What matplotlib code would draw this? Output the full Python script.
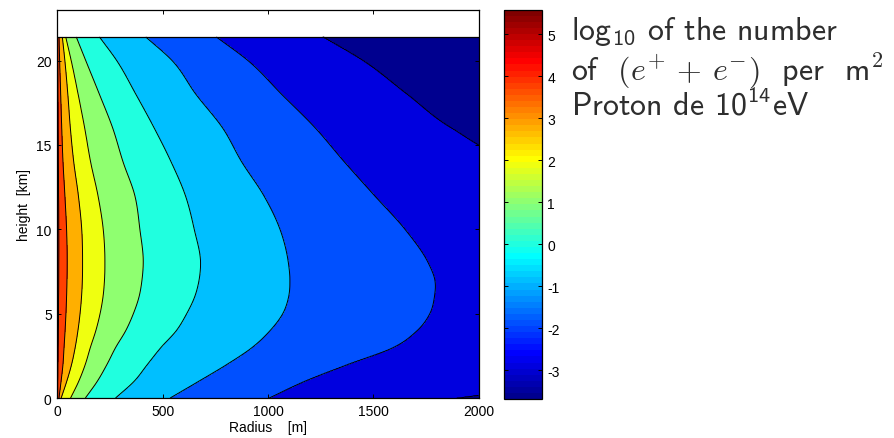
import numpy as np
import matplotlib
matplotlib.use("Agg")
import matplotlib.pyplot as plt
from matplotlib.colors import Normalize, ListedColormap
from matplotlib.cm import ScalarMappable

# === DATA ===
# heights [km] at which the contour crossings were read
HEIGHTS = [0, 1, 2, 3, 4, 5, 6, 7, 8, 10, 12, 14, 16, 18, 20, 21.4]

# radius [m] where log10(N) crosses each level, one list per level
R_LEVEL_5 = [1, 2, 3, 4, 5, 5.5, 6, 6.5, 7, 7, 6, 5, 4, 3, 2, 1.5]
R_LEVEL_4 = [8, 18, 27, 32, 37, 41, 44, 46, 47, 44, 36, 27, 21, 16, 11, 8]
R_LEVEL_3 = [18, 45, 68, 85, 98, 108, 115, 119, 120, 116, 100, 78, 62, 50, 36, 24]
R_LEVEL_2 = [63, 102, 133, 157, 183, 203, 217, 224, 226, 218, 193, 158, 130, 99, 66, 40]
R_LEVEL_1 = [133, 190, 236, 277, 325, 361, 388, 402, 408, 392, 368, 312, 263, 200, 135, 90]
R_LEVEL_0 = [276, 365, 428, 492, 565, 614, 652, 673, 680, 650, 608, 540, 460, 373, 282, 200]
R_LEVEL_M1 = [535, 672, 806, 925, 1010, 1070, 1098, 1104, 1097, 1057, 980, 875, 785, 658, 545, 420]
R_LEVEL_M2 = [1005, 1175, 1380, 1595, 1708, 1768, 1790, 1792, 1761, 1650, 1505, 1362, 1225, 1065, 905, 755]
R_LEVEL_M3 = [1896, 2500, 3000, 3000, 3000, 3000, 3000, 3000, 3000, 3000, 3000, 2200, 1870, 1660, 1450, 1260]

LEVELS = [5, 4, 3, 2, 1, 0, -1, -2, -3]
Z_MAX = 5.58    # value on the shower axis (top of colour bar)
Z_MIN = -3.68   # far from the axis (bottom of colour bar)

COLORBAR_TICKS = [-3, -2, -1, 0, 1, 2, 3, 4, 5]
X_TICKS = [0, 500, 1000, 1500, 2000]
Y_TICKS = [0, 5, 10, 15, 20]

# === CONFIG ===
OUTPUT_PATH = "out.png"
TEXT_COLOR = '#2e2e2e'
# band fill colours, from the lowest band (< -3) up to the highest (> 5)
BAND_COLORS = ['#00008F', '#0000DF', '#0050FF', '#00BFFF', '#20FFDF',
               '#8FFF70', '#EFFF10', '#FFAF00', '#FF4000', '#EF0000']

plt.rcParams['font.family'] = 'Liberation Sans'
plt.rcParams['font.size'] = 10
plt.rcParams['axes.unicode_minus'] = False
# sans math (sub/superscripts) for the annotation
plt.rcParams['mathtext.rm'] = 'cmss10'
plt.rcParams['mathtext.it'] = 'cmss10'
plt.rcParams['mathtext.bf'] = 'cmss10'
plt.rcParams['mathtext.sf'] = 'cmss10'


# MATLAB style jet(64) colour map for the colour bar
def matlab_jet(m=64):
    n = int(np.ceil(m / 4))
    u = np.concatenate([np.arange(1, n + 1) / n, np.ones(n - 1), np.arange(n, 0, -1) / n])
    g = int(np.ceil(n / 2)) - (m % 4 == 1) + np.arange(1, len(u) + 1)
    r = g + n
    b = g - n
    rgb = np.zeros((m, 3))
    for col, idx in zip(range(3), (r, g, b)):
        keep = (idx >= 1) & (idx <= m)
        rgb[idx[keep] - 1, col] = u[keep]
    return ListedColormap(rgb)


# smooth (cubic Hermite) interpolation of a column of crossings along height
def hermite(xq, x, y):
    x = np.asarray(x, float)
    y = np.asarray(y, float)
    dy = np.gradient(y, x)
    k = np.clip(np.searchsorted(x, xq) - 1, 0, len(x) - 2)
    dx = x[k + 1] - x[k]
    s = (xq - x[k]) / dx
    h00 = 2 * s**3 - 3 * s**2 + 1
    h10 = s**3 - 2 * s**2 + s
    h01 = -2 * s**3 + 3 * s**2
    h11 = s**3 - s**2
    return h00 * y[k] + h10 * dx * dy[k] + h01 * y[k + 1] + h11 * dx * dy[k + 1]


# === Build the field from the contour crossings ===
radii_table = [R_LEVEL_5, R_LEVEL_4, R_LEVEL_3, R_LEVEL_2, R_LEVEL_1,
               R_LEVEL_0, R_LEVEL_M1, R_LEVEL_M2, R_LEVEL_M3]

r_grid = np.linspace(0, 2000, 2001)
h_grid = np.linspace(0, HEIGHTS[-1], 321)
radii_h = np.array([hermite(h_grid, HEIGHTS, row) for row in radii_table])
radii_h = np.maximum.accumulate(np.maximum(radii_h, 0.5), axis=0)

z = np.zeros((len(h_grid), len(r_grid)))
fp = [Z_MAX] + LEVELS + [Z_MIN]
for i in range(len(h_grid)):
    xp = np.concatenate([[0.0], radii_h[:, i], [4000.0]])
    z[i] = np.interp(r_grid, xp, fp)

fill_levels = [-4] + sorted(LEVELS) + [6]

# === PLOT ===
fig = plt.figure(figsize=(8.95, 4.39), dpi=100)
ax = fig.add_axes([0.064, 0.0911, 0.4708, 0.8838])

ax.contourf(r_grid, h_grid, z, levels=fill_levels, colors=BAND_COLORS)
ax.contour(r_grid, h_grid, z, levels=sorted(LEVELS), colors='k', linewidths=0.7,
           negative_linestyles='solid')
ax.plot(r_grid[[0, -1]], [h_grid[-1], h_grid[-1]], color='k', linewidth=0.9)

ax.set_xlim(0, 2000)
ax.set_ylim(0, 23)
ax.set_xticks(X_TICKS)
ax.set_yticks(Y_TICKS)
ax.tick_params(direction='in', top=True, right=True, length=3, width=0.7, labelsize=10, pad=4)
for spine in ax.spines.values():
    spine.set_linewidth(0.9)
ax.set_xlabel('Radius    [m]', fontsize=10, labelpad=2)
ax.set_ylabel('height  [km]', fontsize=10, labelpad=4)

# --- COLOUR BAR ---
cax = fig.add_axes([0.5635, 0.0888, 0.0418, 0.8868])
sm = ScalarMappable(norm=Normalize(vmin=Z_MIN, vmax=Z_MAX), cmap=matlab_jet(64))
cb = fig.colorbar(sm, cax=cax, ticks=COLORBAR_TICKS)
cb.outline.set_linewidth(0.9)
cax.tick_params(direction='in', left=True, right=True, length=3, width=0.7, labelsize=10, pad=4)

# --- ANNOTATION ---
txt = dict(fontsize=23, color=TEXT_COLOR, family='cmss10', va='baseline', ha='left')
fig.text(0.638, 0.910, r'log$_{10}$ of the number', math_fontfamily='custom', **txt)
fig.text(0.638, 0.817, r'of  $(e^{+}\,+\,e^{-})$  per  m$^{2}$', math_fontfamily='cm', **txt)
fig.text(0.638, 0.737, r'Proton de 10$^{14}$eV', math_fontfamily='custom', **txt)

fig.savefig(OUTPUT_PATH, dpi=100)
